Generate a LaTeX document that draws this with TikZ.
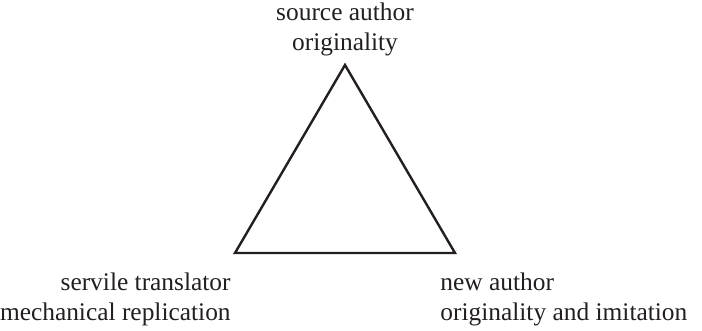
\documentclass[tikz,border=0pt]{standalone}
\usepackage{fontspec}
\setmainfont{Liberation Serif}
\usetikzlibrary{positioning}
\definecolor{ink}{HTML}{231F20}
\tikzset{
  role/.style={font=\fontsize{12.7}{15}\selectfont, text=ink, inner sep=0pt},
  side/.style={draw=ink, line width=1.2pt, line join=miter}
}
\begin{document}
\begin{tikzpicture}[x=0.5pt,y=-0.5pt]
  \useasboundingbox (0,0) rectangle (702,331);
  % corners of the triangle
  \coordinate (apex) at (345,65);
  \coordinate (bl) at (235,253);
  \coordinate (br) at (455,253);
  \draw[side] (apex) -- (br) -- (bl) -- cycle;
  % labels
  \node[role,align=center,anchor=south] (src) at (345,56) {source author\\originality};
  \node[role,align=right,anchor=north east] (tra) at (231,272) {servile translator\\mechanical replication};
  \node[role,align=left,anchor=north west] (new) at (440,272) {new author\\originality and imitation};
\end{tikzpicture}
\end{document}
